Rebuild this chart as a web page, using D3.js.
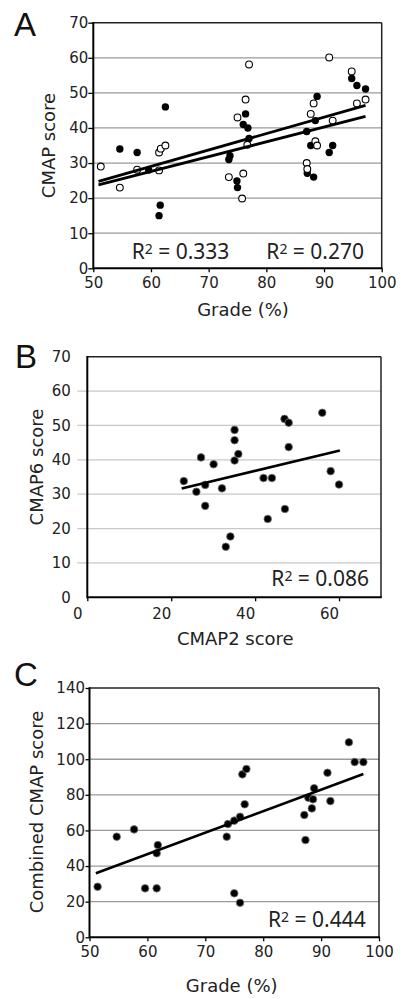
<!DOCTYPE html>
<html><head><meta charset="utf-8">
<script src="https://cdn.jsdelivr.net/npm/d3@7/dist/d3.min.js"></script>
<style>body{margin:0;background:#fff}svg{display:block}</style>
</head><body>
<script>
// ---------- Panel A ----------
const aXTicks = [50, 60, 70, 80, 90, 100];
const aYTicks = [0, 10, 20, 30, 40, 50, 60, 70];
const aOpenX = [51.3, 54.6, 57.6, 61.4, 61.7, 62.5, 61.4, 73.5, 75.0, 76.0, 75.8, 76.4, 77.0, 76.7, 87.0, 87.1, 87.7, 88.2, 88.5, 88.8, 90.9, 91.5, 94.8, 95.7, 97.2];
const aOpenY = [29.0, 23.0, 28.1, 33.0, 34.1, 35.0, 27.9, 26.0, 43.0, 27.0, 19.9, 48.1, 58.1, 35.2, 30.0, 28.3, 44.0, 47.0, 36.2, 35.0, 60.1, 42.1, 56.1, 47.0, 48.1];
const aFilledX = [54.6, 57.6, 59.6, 62.5, 61.6, 61.4, 73.7, 73.5, 74.9, 75.0, 76.4, 76.0, 76.8, 77.0, 87.0, 88.5, 88.8, 87.7, 87.1, 88.2, 90.9, 91.5, 94.8, 95.7, 97.2];
const aFilledY = [34.0, 33.0, 28.0, 46.0, 18.0, 15.0, 32.1, 31.0, 24.9, 23.0, 44.0, 41.0, 40.0, 37.0, 39.0, 42.1, 49.0, 35.0, 27.1, 26.0, 33.0, 35.0, 54.1, 52.1, 51.1];
const aFitSlope = [0.467, 0.421];
const aFitIntercept = [1.03, 2.37];
const aFitRange = [50.9, 97.2];
const aR2 = ["0.333", "0.270"];

// ---------- Panel B ----------
const bXTicks = [0, 20, 40, 60];
const bYTicks = [0, 10, 20, 30, 40, 50, 60, 70];
const bX = [23.0, 26.0, 27.1, 28.1, 28.1, 30.1, 32.1, 33.0, 34.1, 35.1, 35.1, 35.1, 36.0, 42.0, 44.0, 43.0, 47.0, 48.0, 48.0, 47.1, 56.0, 58.0, 60.0];
const bY = [33.8, 30.7, 40.7, 32.7, 26.6, 38.7, 31.7, 14.7, 17.7, 48.7, 45.7, 39.8, 41.7, 34.7, 34.7, 22.8, 51.9, 50.8, 43.7, 25.7, 53.7, 36.7, 32.8];
const bFitSlope = 0.292;
const bFitIntercept = 25.1;
const bFitRange = [22.5, 60.2];
const bR2 = "0.086";

// ---------- Panel C ----------
const cXTicks = [50, 60, 70, 80, 90, 100];
const cYTicks = [0, 20, 40, 60, 80, 100, 120, 140];
const cX = [51.4, 54.7, 57.7, 59.6, 61.6, 61.6, 61.8, 73.7, 73.9, 75.0, 76.0, 75.0, 76.0, 76.8, 76.4, 77.1, 87.3, 87.1, 87.8, 88.6, 88.8, 88.4, 91.1, 91.6, 94.8, 95.8, 97.3];
const cY = [28.4, 56.5, 60.6, 27.5, 27.5, 47.2, 51.8, 56.5, 63.6, 24.7, 19.4, 65.5, 67.7, 74.7, 91.5, 94.5, 54.6, 68.7, 78.4, 77.5, 83.7, 72.4, 92.4, 76.5, 109.5, 98.4, 98.4];
const cFitSlope = 1.208;
const cFitIntercept = -25.8;
const cFitRange = [51.1, 97.3];
const cR2 = "0.444";

const FONT = "DejaVu Sans, Verdana, sans-serif";
const R2FONT = "Noto Sans, Open Sans, sans-serif";
const svg = d3.select("body").append("svg").attr("width", 402).attr("height", 999);

function panel(cfg) {
  const g = svg.append("g");
  const x = d3.scaleLinear().domain(cfg.xDomain).range([cfg.left, cfg.right]);
  const y = d3.scaleLinear().domain(cfg.yDomain).range([cfg.bottom, cfg.top]);
  // grid
  g.append("g").selectAll("line").data(cfg.yTicks.slice(1, -1)).join("line")
    .attr("x1", cfg.left - cfg.gridExt).attr("x2", cfg.right)
    .attr("y1", d => y(d)).attr("y2", d => y(d))
    .attr("stroke", cfg.gridColor).attr("stroke-width", 1.3);
  // y axis
  const yg = g.append("g").attr("transform", `translate(${cfg.left},0)`)
    .call(d3.axisLeft(y).tickValues(cfg.yTicks).tickSize(cfg.yTickSize).tickPadding(cfg.yPad).tickFormat(d3.format("d")));
  yg.select(".domain").remove();
  yg.attr("font-family", FONT).attr("font-size", 15);
  yg.selectAll("text").attr("fill", "#222");
  yg.selectAll("line").attr("stroke", "#000").attr("stroke-width", 1.3);
  // x axis
  const xg = g.append("g").attr("transform", `translate(0,${cfg.bottom})`)
    .call(d3.axisBottom(x).tickValues(cfg.xTicks).tickSize(4).tickPadding(cfg.xPad).tickFormat(d3.format("d")));
  xg.select(".domain").remove();
  xg.attr("font-family", FONT).attr("font-size", 15);
  xg.selectAll("text").attr("fill", "#222").attr("dx", cfg.xDx || 0);
  xg.selectAll("line").attr("stroke", "#000").attr("stroke-width", 1.3);
  // frame
  g.append("line").attr("x1", cfg.left).attr("x2", cfg.right).attr("y1", cfg.top).attr("y2", cfg.top).attr("stroke", "#222").attr("stroke-width", 1.5);
  g.append("line").attr("x1", cfg.right).attr("x2", cfg.right).attr("y1", cfg.top).attr("y2", cfg.bottom).attr("stroke", "#222").attr("stroke-width", 1.5);
  g.append("line").attr("x1", cfg.left).attr("x2", cfg.left).attr("y1", cfg.top - 0.75).attr("y2", cfg.bottom + 1).attr("stroke", "#000").attr("stroke-width", 2);
  g.append("line").attr("x1", cfg.left).attr("x2", cfg.right + 0.75).attr("y1", cfg.bottom).attr("y2", cfg.bottom).attr("stroke", "#000").attr("stroke-width", 2);
  // titles
  g.append("text").attr("x", cfg.xTitle[0]).attr("y", cfg.xTitle[1]).attr("text-anchor", "middle")
    .attr("font-family", FONT).attr("font-size", 18).attr("fill", "#222").text(cfg.xLabel);
  g.append("text").attr("transform", `translate(${cfg.yTitle[0]},${cfg.yTitle[1]}) rotate(-90)`).attr("text-anchor", "middle")
    .attr("font-family", FONT).attr("font-size", 18).attr("fill", "#222").text(cfg.yLabel);
  g.append("text").attr("x", cfg.letter[0]).attr("y", cfg.letter[1])
    .attr("font-family", "Liberation Sans, Arial, sans-serif").attr("font-size", 33).attr("fill", "#111").text(cfg.letterText);
  return {g, x, y};
}

function r2(g, xp, yp, val, anchor) {
  const t = g.append("text").attr("x", xp).attr("y", yp).attr("text-anchor", anchor)
    .attr("font-family", R2FONT).attr("font-size", 21).attr("fill", "#222");
  t.append("tspan").text("R");
  t.append("tspan").attr("font-size", 14).attr("dy", -5).text("2");
  t.append("tspan").attr("dy", 5).text(" = " + val);
}

function fitLine(p, slope, intercept, range, width) {
  p.g.append("line")
    .attr("x1", p.x(range[0])).attr("y1", p.y(slope * range[0] + intercept))
    .attr("x2", p.x(range[1])).attr("y2", p.y(slope * range[1] + intercept))
    .attr("stroke", "#000").attr("stroke-width", width).attr("stroke-linecap", "butt");
}

// Panel A
const A = panel({xDomain: [50, 100], yDomain: [0, 70], left: 93.3, right: 381.7, top: 22.7, bottom: 268.3,
  xTicks: aXTicks, yTicks: aYTicks, gridExt: 0, gridColor: "#9a9a9a", yTickSize: 5, yPad: 0, xPad: 4.7,
  xLabel: "Grade (%)", yLabel: "CMAP score", xTitle: [243, 315.5], yTitle: [55, 145.5], letter: [14, 36], letterText: "A"});
A.g.append("g").selectAll("circle").data(d3.range(aFilledX.length)).join("circle")
  .attr("cx", i => A.x(aFilledX[i])).attr("cy", i => A.y(aFilledY[i])).attr("r", 3.7).attr("fill", "#000");
A.g.append("g").selectAll("circle").data(d3.range(aOpenX.length)).join("circle")
  .attr("cx", i => A.x(aOpenX[i])).attr("cy", i => A.y(aOpenY[i])).attr("r", 3.4)
  .attr("fill", "#fff").attr("stroke", "#000").attr("stroke-width", 1.1);
aFitSlope.forEach((s, i) => fitLine(A, s, aFitIntercept[i], aFitRange, 2.8));
r2(A.g, 131.7, 259.3, aR2[0], "start");
r2(A.g, 364, 259.3, aR2[1], "end");

// Panel B
const B = panel({xDomain: [0, 70], yDomain: [0, 70], left: 87.3, right: 381, top: 356.7, bottom: 597.3,
  xTicks: bXTicks, yTicks: bYTicks, gridExt: 10, gridColor: "#c8c8c8", yTickSize: 0, yPad: 16.5, xPad: 6.7, xDx: -10,
  xLabel: "CMAP2 score", yLabel: "CMAP6 score", xTitle: [235.3, 645], yTitle: [43.3, 467], letter: [15, 368], letterText: "B"});
B.g.append("g").selectAll("circle").data(d3.range(bX.length)).join("circle")
  .attr("cx", i => B.x(bX[i])).attr("cy", i => B.y(bY[i])).attr("r", 3.8)
  .attr("fill", "#000").attr("stroke", "#777").attr("stroke-width", 0.8);
fitLine(B, bFitSlope, bFitIntercept, bFitRange, 2.6);
r2(B.g, 369, 586, bR2, "end");

// Panel C
const C = panel({xDomain: [50, 100], yDomain: [0, 140], left: 89.5, right: 379, top: 688, bottom: 937.3,
  xTicks: cXTicks, yTicks: cYTicks, gridExt: 0, gridColor: "#9a9a9a", yTickSize: 4, yPad: 0.5, xPad: 5.4,
  xLabel: "Grade (%)", yLabel: "Combined CMAP score", xTitle: [231.7, 992], yTitle: [43.3, 812], letter: [14, 686], letterText: "C"});
C.g.append("g").selectAll("circle").data(d3.range(cX.length)).join("circle")
  .attr("cx", i => C.x(cX[i])).attr("cy", i => C.y(cY[i])).attr("r", 3.8)
  .attr("fill", "#000").attr("stroke", "#777").attr("stroke-width", 0.8);
fitLine(C, cFitSlope, cFitIntercept, cFitRange, 2.6);
r2(C.g, 365.7, 926.7, cR2, "end");
</script>
</body></html>
